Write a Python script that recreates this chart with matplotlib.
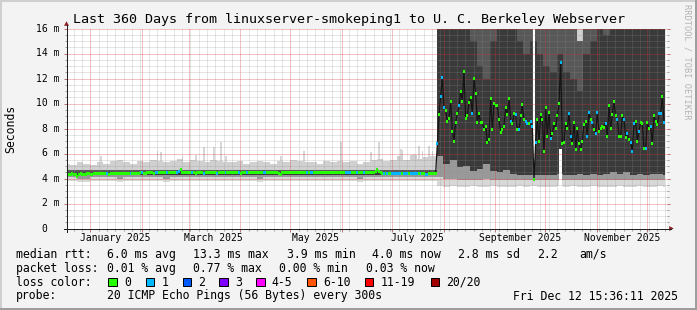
#!/usr/bin/env python3
"""
SmokePing "Last 360 Days" latency graph redrawn with matplotlib.
Smoke is drawn as stacked quantile bands, median as loss-coloured squares.
"""
from datetime import datetime, timedelta

import numpy as np
import matplotlib
matplotlib.use("Agg")
import matplotlib.pyplot as plt
from matplotlib.lines import Line2D
from matplotlib.patches import Rectangle, Polygon
from matplotlib.transforms import Affine2D
from matplotlib.ticker import FixedLocator

plt.rcParams['font.family'] = 'DejaVu Sans Mono'

W, H = 697, 310
START = datetime(2024, 12, 17, 15, 36, 11)
N_DAYS = 360

TITLE = "Last 360 Days from linuxserver-smokeping1 to U. C. Berkeley Webserver"

# daily median rtt (ms), day 0 = Dec 17 2024
median_first = [
    4.3, 4.3, 4.3, 4.4, 4.3, 4.3, 4.2, 4.3, 4.4, 4.3, 4.3, 4.3, 4.4, 4.4, 4.3, 4.3, 4.4, 4.4, 4.4, 4.4,
    4.4, 4.4, 4.4, 4.4, 4.4, 4.3, 4.4, 4.4, 4.4, 4.4, 4.4, 4.4, 4.4, 4.4, 4.4, 4.4, 4.4, 4.4, 4.4, 4.4,
    4.4, 4.4, 4.4, 4.4, 4.45, 4.45, 4.4, 4.4, 4.45, 4.45, 4.45, 4.45, 4.4, 4.45, 4.45, 4.45, 4.45, 4.45, 4.45, 4.45,
    4.45, 4.45, 4.45, 4.45, 4.45, 4.45, 4.45, 4.6, 4.7, 4.45, 4.45, 4.45, 4.45, 4.45, 4.45, 4.45, 4.45, 4.4, 4.45, 4.45,
    4.45, 4.45, 4.4, 4.45, 4.45, 4.45, 4.45, 4.45, 4.45, 4.45, 4.4, 4.45, 4.45, 4.45, 4.45, 4.45, 4.45, 4.45, 4.45, 4.45,
    4.45, 4.45, 4.45, 4.45, 4.4, 4.45, 4.45, 4.45, 4.45, 4.45, 4.45, 4.45, 4.45, 4.45, 4.45, 4.45, 4.45, 4.45, 4.45, 4.45,
    4.45, 4.45, 4.45, 4.45, 4.45, 4.45, 4.45, 4.4, 4.3, 4.45, 4.45, 4.45, 4.45, 4.45, 4.45, 4.45, 4.45, 4.45, 4.45, 4.45,
    4.45, 4.45, 4.45, 4.45, 4.45, 4.45, 4.45, 4.45, 4.45, 4.45, 4.45, 4.45, 4.45, 4.45, 4.45, 4.45, 4.45, 4.45, 4.45, 4.45,
    4.45, 4.45, 4.45, 4.45, 4.45, 4.45, 4.45, 4.45, 4.45, 4.45, 4.45, 4.45, 4.45, 4.45, 4.45, 4.45, 4.45, 4.45, 4.45, 4.45,
    4.45, 4.45, 4.45, 4.45, 4.45, 4.6, 4.7, 4.6, 4.45, 4.4, 4.4, 4.4, 4.4, 4.4, 4.4, 4.4, 4.4, 4.4, 4.4, 4.4,
    4.4, 4.4, 4.4, 4.4, 4.4, 4.4, 4.4, 4.4, 4.4, 4.4, 4.4, 4.4, 4.4, 4.4, 4.4, 4.3, 4.3, 4.4, 4.4, 4.4,
    4.4, 4.4,
]
median_second = [
    6.8, 9.1, 10.6, 12.1, 9.7, 9.4, 8.6, 8.8, 10.2, 7.8, 7.0, 8.5, 9.2, 9.8, 11.0, 10.2, 12.6, 8.8, 9.0, 10.1,
    10.5, 9.2, 12.0, 10.8, 8.5, 9.2, 8.5, 8.5, 7.9, 8.2, 6.9, 7.1, 10.4, 7.9, 10.0, 9.8, 9.8, 8.7, 7.7, 7.9,
    8.2, 9.7, 9.1, 10.4, 8.6, 8.4, 9.2,
    9.1, 7.9, 7.9, 9.0, 9.9, 8.7, 8.6, 8.4, 8.4, 8.6, 8.2, 3.9, 6.9, 8.7, 7.0, 9.1, 8.7, 6.2, 9.7, 7.4,
    9.3, 7.2, 7.6, 8.4, 8.0, 9.0, 10.0, 13.3, 6.8, 6.9, 8.4, 8.0, 9.2, 7.4, 6.8, 8.5, 6.3, 8.0, 6.8, 6.3,
    7.0, 8.3, 8.6, 7.4, 9.3, 8.7, 8.5, 7.9,
    7.6, 9.3, 7.8, 8.0, 8.2, 8.1, 8.4, 7.4, 9.8, 8.0, 9.1, 10.2, 9.0, 8.7, 7.4, 7.4, 9.0, 8.7, 7.3, 7.6,
    7.1, 6.9, 6.2, 8.4, 8.6, 7.0, 7.8, 8.5, 8.4, 6.4, 6.4, 8.5, 8.0, 8.2, 6.8, 9.0, 8.6, 8.3, 9.2, 9.2,
    10.6, 8.5,
]
# days with 1/20 packet loss (blue); all others 0 loss (green)
loss1_days = [
    24, 38, 45, 53, 54, 60, 66, 67, 75, 82, 90, 95, 103, 108, 118, 119, 144, 146, 147,
    167, 168, 169, 170, 174, 178, 190, 192, 195, 196, 197, 198, 199, 200, 202, 203, 204,
    206, 207, 208, 209, 210, 212, 215, 216,
    222, 224, 225, 226, 235, 243, 266, 269, 271, 275, 276, 278, 279, 281, 290, 296, 301,
    302, 312, 313, 315, 317, 318, 323, 330, 334, 336, 338, 339, 340, 343, 347, 350, 355,
    356, 358,
]

# smoke quantiles (ms) per 4-day block (block 0 is 2 days), 56 blocks before / 35 after the jump
smoke_min = [
    3.8, 3.8, 3.7, 3.7, 3.8, 3.8, 3.8, 3.8, 3.7, 3.8, 3.8, 3.8, 3.8, 3.8, 3.8, 3.7, 3.8, 3.8, 3.8, 3.8,
    3.8, 3.8, 3.8, 3.8, 3.8, 3.8, 3.8, 3.8, 3.8, 3.7, 3.8, 3.8, 3.8, 3.8, 3.8, 3.8, 3.8, 3.8, 3.8, 3.8,
    3.8, 3.8, 3.8, 3.8, 3.7, 3.8, 3.8, 3.8, 3.8, 3.8, 3.8, 3.8, 3.8, 3.8, 3.8, 3.8,
    3.4, 3.3, 3.4, 3.3, 3.3, 3.4, 3.3, 3.3, 3.4, 3.3, 3.3, 3.3, 3.4, 3.3, 3.4, 3.3, 3.3, 3.3, 3.4, 3.3,
    3.4, 3.3, 3.3, 3.4, 3.3, 3.3, 3.3, 3.4, 3.3, 3.3, 3.4, 3.3, 3.3, 3.4, 3.3,
]
smoke_p10 = [
    4.1, 4.1, 4.0, 4.0, 4.1, 4.1, 4.1, 4.1, 4.0, 4.1, 4.1, 4.1, 4.1, 4.1, 4.1, 4.0, 4.1, 4.1, 4.1, 4.1,
    4.1, 4.1, 4.1, 4.1, 4.1, 4.1, 4.1, 4.1, 4.1, 4.0, 4.1, 4.1, 4.1, 4.1, 4.1, 4.1, 4.1, 4.1, 4.1, 4.1,
    4.1, 4.1, 4.1, 4.1, 4.0, 4.1, 4.1, 4.1, 4.1, 4.1, 4.1, 4.1, 4.1, 4.1, 4.1, 4.1,
    4.1, 4.0, 4.0, 3.9, 3.9, 3.9, 3.9, 4.0, 3.9, 3.9, 3.9, 3.9, 3.9, 3.9, 3.9, 3.9, 3.9, 3.9, 3.9, 3.9,
    3.9, 3.9, 3.9, 3.9, 3.9, 3.9, 3.9, 3.9, 3.9, 3.9, 3.9, 3.9, 3.9, 3.9, 3.9,
]
smoke_p30 = [
    4.3, 4.3, 4.3, 4.3, 4.3, 4.3, 4.3, 4.3, 4.3, 4.3, 4.3, 4.3, 4.3, 4.3, 4.3, 4.3, 4.3, 4.3, 4.3, 4.3,
    4.3, 4.3, 4.3, 4.3, 4.3, 4.3, 4.3, 4.3, 4.3, 4.3, 4.3, 4.3, 4.3, 4.3, 4.3, 4.3, 4.3, 4.3, 4.3, 4.3,
    4.3, 4.3, 4.3, 4.3, 4.3, 4.3, 4.3, 4.3, 4.3, 4.3, 4.3, 4.3, 4.3, 4.3, 4.3, 4.3,
    5.8, 5.2, 5.5, 4.9, 5.0, 4.6, 4.8, 5.2, 4.6, 4.5, 4.7, 4.4, 4.3, 4.3, 4.3, 4.3, 4.3, 4.3, 4.4, 4.3,
    4.3, 4.4, 4.3, 4.4, 4.3, 4.4, 4.5, 4.4, 4.5, 4.3, 4.4, 4.3, 4.4, 4.4, 4.3,
]
smoke_p70 = [
    4.55, 4.55, 4.55, 4.55, 4.55, 4.55, 4.55, 4.55, 4.55, 4.55, 4.55, 4.55, 4.55, 4.55, 4.55, 4.55, 4.55, 4.55, 4.55, 4.55,
    4.55, 4.55, 4.55, 4.55, 4.55, 4.55, 4.55, 4.55, 4.55, 4.55, 4.55, 4.55, 4.55, 4.55, 4.55, 4.55, 4.55, 4.55, 4.55, 4.55,
    4.55, 4.55, 4.55, 4.55, 4.55, 4.55, 4.55, 4.55, 4.55, 4.55, 4.55, 4.55, 4.55, 4.55, 4.55, 4.55,
    16.5, 17.0, 18.0, 17.0, 16.5, 15.0, 13.0, 12.0, 15.0, 16.0, 17.0, 16.5, 15.0, 14.0, 15.0, 14.0, 13.0, 12.5, 14.0, 12.5,
    12.0, 11.0, 14.0, 15.0, 16.0, 15.5, 16.5, 17.0, 16.0, 17.0, 16.5, 18.0, 17.0, 17.0, 16.5,
]
smoke_p90 = [
    4.65, 4.65, 4.65, 4.65, 4.65, 4.65, 4.65, 4.65, 4.65, 4.65, 4.65, 4.65, 4.65, 4.65, 4.65, 4.65, 4.65, 4.65, 4.65, 4.65,
    4.65, 4.65, 4.65, 4.65, 4.65, 4.65, 4.65, 4.65, 4.65, 4.65, 4.65, 4.65, 4.65, 4.65, 4.65, 4.65, 4.65, 4.65, 4.65, 4.65,
    4.65, 4.65, 4.65, 4.65, 4.65, 4.65, 4.65, 4.65, 4.65, 4.65, 4.65, 4.65, 4.65, 4.65, 4.65, 4.65,
    22.0, 24.0, 25.0, 23.0, 22.0, 19.0, 17.0, 16.5, 19.0, 20.0, 22.0, 21.0, 19.0, 18.5, 19.0, 18.0, 17.0, 16.5, 18.0, 17.0,
    16.5, 15.0, 18.0, 19.0, 20.0, 19.0, 21.0, 22.0, 20.0, 22.0, 21.0, 24.0, 22.0, 22.0, 21.0,
]
smoke_max = [
    5.2, 5.1, 5.3, 5.2, 5.1, 5.3, 5.2, 5.4, 5.5, 5.3, 5.2, 5.4, 5.3, 5.5, 5.4, 5.3, 5.4, 5.6, 5.3, 5.5,
    5.4, 5.3, 5.5, 5.4, 5.3, 5.3, 5.4, 5.2, 5.3, 5.4, 5.3, 5.2, 5.4, 5.3, 5.5, 5.4, 5.3, 5.3, 5.2, 5.4,
    5.3, 5.4, 5.3, 5.4, 5.2, 5.3, 5.5, 5.6, 5.4, 5.5, 5.8, 5.5, 5.9, 5.6, 5.7, 5.8,
    40, 45, 50, 42, 44, 38, 36, 35, 40, 41, 46, 42, 39, 37, 40, 38, 35, 34, 39, 33,
    34, 37, 39, 40, 42, 40, 44, 45, 41, 47, 44, 50, 46, 44, 42,
]
# single-day outliers above the smoke envelope
spike_days = [20, 54, 56, 69, 77, 82, 88, 92, 95, 128, 142, 164, 182, 187, 200, 201, 208, 211, 213, 217, 219]
spike_ms = [5.8, 6.2, 6.1, 5.8, 5.9, 6.5, 6.5, 6.9, 5.8, 5.8, 6.2, 6.9, 6.1, 6.9, 6.4, 6.3, 6.0, 6.6, 6.2, 6.6, 6.2]
# single days whose pings left part of the range empty
quiet_days = [280, 296]
quiet_lo = [4.7, 3.0]
quiet_hi = [17.0, 6.4]

# legend content
rtt_stats = ["6.0 ms avg", "13.3 ms max", "3.9 ms min", "4.0 ms now", "2.8 ms sd", "2.2", "am/s"]
loss_stats = ["0.01 % avg", "0.77 % max", "0.00 % min", "0.03 % now"]
loss_labels = ["0", "1", "2", "3", "4-5", "6-10", "11-19", "20/20"]
loss_colors = ["#26ff00", "#00b8ff", "#0059ff", "#7e00ff", "#ff00ff", "#ff5500", "#ff0000", "#a00000"]
probe_text = "20 ICMP Echo Pings (56 Bytes) every 300s"
stamp_text = "Fri Dec 12 15:36:11 2025"

# ---------------------------------------------------------------------------
fig = plt.figure(figsize=(W / 100, H / 100), dpi=100)
fig.patch.set_facecolor('#F3F3F3')
pix = Affine2D().scale(1 / W, -1 / H).translate(0, 1) + fig.transFigure

X0, X1, Y0, Y1 = 66.5, 666.5, 228.5, 28.5
ax = fig.add_axes([X0 / W, 1 - Y0 / H, (X1 - X0) / W, (Y0 - Y1) / H])
ax.set_facecolor('white')
ax.set_xlim(0, N_DAYS)
ax.set_ylim(0, 16)
for sp in ax.spines.values():
    sp.set_visible(False)

# smoke bands
blk = np.arange(len(smoke_min))
edges = np.append(np.clip(blk * 4 - 2, 0, None), 359)
bands = [
    (smoke_min, smoke_p10, '#D8D8D8'),
    (smoke_p10, smoke_p30, '#999999'),
    (smoke_p30, smoke_p70, '#3A3A3A'),
    (smoke_p70, smoke_p90, '#585858'),
    (smoke_p90, smoke_max, '#D0D0D0'),
]
sd = np.array(spike_days) + 0.5
ax.bar(sd, np.array(spike_ms) - 4.6, bottom=4.6, width=1.0, color='#D8D8D8', linewidth=0, zorder=0.9)
for lo, hi, c in bands:
    ax.stairs(np.array(hi), edges, baseline=np.array(lo), fill=True, color=c, linewidth=0, zorder=1)
qd = np.array(quiet_days) + 0.5
ax.bar(qd, np.array(quiet_hi) - np.array(quiet_lo), bottom=quiet_lo, width=1.5,
       color='white', linewidth=0, zorder=1.2)

# median line and loss squares
median = np.full(N_DAYS, np.nan)
vals = median_first + median_second
median[:len(vals)] = vals
days = np.arange(N_DAYS) + 0.5
ax.plot(days, median, color='#151515', linewidth=0.9, zorder=3)
ok = ~np.isnan(median)
sq_col = [loss_colors[1] if d in loss1_days else loss_colors[0] for d in range(N_DAYS)]
ax.bar(days[ok], 0.24, bottom=median[ok] - 0.12, width=1.3,
       color=[c for c, k in zip(sq_col, ok) if k], linewidth=0, zorder=4)

# grid (dotted in the original; drawn solid with the averaged tone)
month_days = [(datetime(2025, m, 1) - START).total_seconds() / 86400 for m in range(1, 13)]
five_days = [(datetime(2024, 12, 17) + timedelta(days=5 * k) - START).total_seconds() / 86400
             for k in range(1, 73)]
ax.xaxis.set_major_locator(FixedLocator(month_days))
ax.xaxis.set_minor_locator(FixedLocator(five_days))
ax.yaxis.set_major_locator(FixedLocator(np.arange(0, 17, 2)))
ax.yaxis.set_minor_locator(FixedLocator(np.arange(0, 16.01, 0.5)))
ax.set_axisbelow(False)
ax.grid(True, which='major', color='#D93333', alpha=0.3, linestyle='-',
        linewidth=0.72, antialiased=False)
ax.grid(True, which='minor', color='#8C8C8C', alpha=0.22, linestyle='-',
        linewidth=0.72, antialiased=False)
ax.tick_params(which='both', direction='out', labelbottom=False, labelleft=False, width=0.72)
ax.tick_params(axis='y', which='major', left=True, right=True, length=2.2, color='#C07070')
ax.tick_params(axis='y', which='minor', left=True, right=True, length=1.5, color='#A0A0A0')
ax.tick_params(axis='x', which='major', bottom=True, length=2.2, color='#C07070')
ax.tick_params(axis='x', which='minor', bottom=True, length=1.5, color='#A0A0A0')

# month labels, centred half a month after the grid line
for m in (1, 3, 5, 7, 9, 11):
    d = datetime(2025, m, 1)
    pos = (d - START).total_seconds() / 86400 + 15
    ax.text(pos, -0.046, d.strftime("%B %Y"), transform=ax.get_xaxis_transform(),
            ha='center', va='center', fontsize=7)

# y labels
for v in range(0, 17, 2):
    y = Y0 - v * (Y0 - Y1) / 16
    if v == 0:
        fig.text(47.6, y, "0", transform=pix, ha='right', va='center', fontsize=7)
    else:
        fig.text(59.5, y, f"{v} m", transform=pix, ha='right', va='center', fontsize=7)

# axes with arrows
fig.add_artist(Line2D([X0, X0], [Y0 + 3, Y1 - 4], transform=pix, color='#202020', linewidth=0.72))
fig.add_artist(Line2D([X0 - 3, X1 + 4], [Y0, Y0], transform=pix, color='#202020', linewidth=0.72))
fig.add_artist(Polygon([[X0 - 2.5, Y1 - 2.7], [X0 + 2.5, Y1 - 2.7], [X0, Y1 - 7.2]],
                       transform=pix, color='#8B1F1F', linewidth=0))
fig.add_artist(Polygon([[X1 + 2.7, Y0 - 2.5], [X1 + 2.7, Y0 + 2.5], [X1 + 7.2, Y0]],
                       transform=pix, color='#8B1F1F', linewidth=0))

# texts
fig.text(72.7, 19.3, TITLE, transform=pix, ha='left', va='center', fontsize=9.6)
fig.text(10.8, 128.5, "Seconds", transform=pix, rotation=90, ha='center', va='center', fontsize=8.3)
fig.text(687.5, 61.7, "RRDTOOL / TOBI OETIKER", transform=pix, rotation=270,
         ha='center', va='center', fontsize=6.2, color='#B4B4B4')

rows = [254.3, 268.3, 282.3, 296.0]
fs = 8.3
fig.text(16, rows[0], "median rtt:", transform=pix, va='center', fontsize=fs)
for x, s in zip([107, 193, 287, 372.3, 458.3, 536.7, 579.3], rtt_stats):
    fig.text(x, rows[0], s, transform=pix, va='center', fontsize=fs)
fig.text(16, rows[1], "packet loss:", transform=pix, va='center', fontsize=fs)
for x, s in zip([107, 193.3, 279.3, 365.7], loss_stats):
    fig.text(x, rows[1], s, transform=pix, va='center', fontsize=fs)
fig.text(16, rows[2], "loss color:", transform=pix, va='center', fontsize=fs)
for bx, s, c in zip([108.3, 145.7, 182.7, 219.3, 256.3, 307.3, 365.0, 430.7], loss_labels, loss_colors):
    fig.add_artist(Rectangle((bx, rows[2] - 4.2), 8.3, 8.3, transform=pix,
                             facecolor=c, edgecolor='black', linewidth=0.72))
    fig.text(bx + 15.5, rows[2], s, transform=pix, va='center', fontsize=fs)
fig.text(16, rows[3], "probe:", transform=pix, va='center', fontsize=fs)
fig.text(107.3, rows[3], probe_text, transform=pix, va='center', fontsize=fs)
fig.text(513.3, rows[3], stamp_text, transform=pix, va='center', fontsize=fs)

# 3d frame
fig.add_artist(Rectangle((0, 0), W, 2, transform=pix, color='#CFCFCF', linewidth=0))
fig.add_artist(Rectangle((0, 0), 2, H, transform=pix, color='#CFCFCF', linewidth=0))
fig.add_artist(Rectangle((0, H - 2), W, 2, transform=pix, color='#9E9E9E', linewidth=0))
fig.add_artist(Rectangle((W - 2, 0), 2, H, transform=pix, color='#9E9E9E', linewidth=0))

fig.savefig("out.png", dpi=100, facecolor=fig.get_facecolor())
